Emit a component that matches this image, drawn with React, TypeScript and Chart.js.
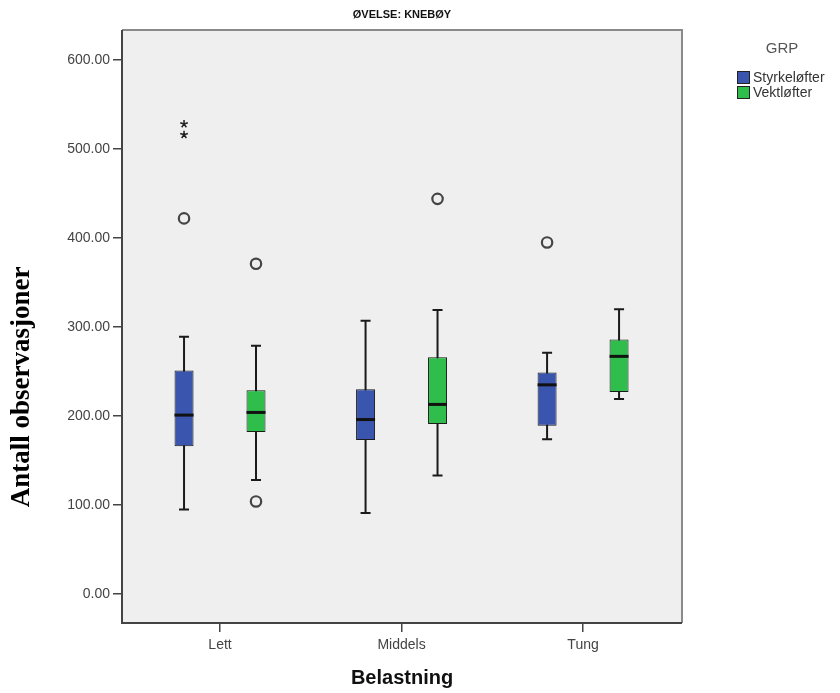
import React, { useEffect, useRef } from 'react';
import { Chart, registerables } from 'chart.js';

Chart.register(...registerables);

const categories = ['Lett', 'Middels', 'Tung'];
const groupNames = ['Styrkeløfter', 'Vektløfter'];
const yTicks = [0, 100, 200, 300, 400, 500, 600];

// Styrkeløfter
const styrkeMin = [95, 91, 174];
const styrkeQ1 = [166, 173, 189];
const styrkeMedian = [201, 196, 235];
const styrkeQ3 = [251, 230, 249];
const styrkeMax = [289, 307, 271];
const styrkeOutliers = [[422], [], [395]];
const styrkeExtremes = [[516, 528], [], []];

// Vektløfter
const vektMin = [128, 133, 219];
const vektQ1 = [182, 191, 227];
const vektMedian = [204, 213, 267];
const vektQ3 = [229, 266, 286];
const vektMax = [279, 319, 320];
const vektOutliers = [[104, 371], [444], []];
const vektExtremes = [[], [], []];

const colors = ['#3a55ad', '#2fbd4c'];
const SANS = '"Liberation Sans", Arial, sans-serif';
const SERIF = '"Liberation Serif", "Times New Roman", serif';

const stats = [
  { min: styrkeMin, q1: styrkeQ1, med: styrkeMedian, q3: styrkeQ3, max: styrkeMax, out: styrkeOutliers, ext: styrkeExtremes },
  { min: vektMin, q1: vektQ1, med: vektMedian, q3: vektQ3, max: vektMax, out: vektOutliers, ext: vektExtremes },
];

const boxPlugin = {
  id: 'boxExtras',
  beforeDraw(chart: any) {
    const { ctx, chartArea: a } = chart;
    ctx.save();
    ctx.fillStyle = '#ffffff';
    ctx.fillRect(0, 0, chart.width, chart.height);
    ctx.fillStyle = '#efefef';
    ctx.fillRect(a.left, a.top, a.right - a.left, a.bottom - a.top);
    ctx.restore();
  },
  beforeDatasetsDraw(chart: any) {
    const { ctx } = chart;
    const yS = chart.scales.y;
    ctx.save();
    ctx.strokeStyle = '#1a1a1a';
    ctx.lineWidth = 2;
    stats.forEach((s, di) => {
      const meta = chart.getDatasetMeta(di);
      meta.data.forEach((bar: any, i: number) => {
        const x = bar.x;
        const yLo = yS.getPixelForValue(s.min[i]);
        const yHi = yS.getPixelForValue(s.max[i]);
        ctx.beginPath();
        ctx.moveTo(x, yLo);
        ctx.lineTo(x, yHi);
        ctx.moveTo(x - 5, yLo);
        ctx.lineTo(x + 5, yLo);
        ctx.moveTo(x - 5, yHi);
        ctx.lineTo(x + 5, yHi);
        ctx.stroke();
      });
    });
    ctx.restore();
  },
  afterDatasetsDraw(chart: any) {
    const { ctx, chartArea: a } = chart;
    const yS = chart.scales.y;
    ctx.save();
    stats.forEach((s, di) => {
      const meta = chart.getDatasetMeta(di);
      meta.data.forEach((bar: any, i: number) => {
        const x = bar.x;
        const w = bar.width;
        const ym = yS.getPixelForValue(s.med[i]);
        ctx.strokeStyle = '#111';
        ctx.lineWidth = 3;
        ctx.beginPath();
        ctx.moveTo(x - w / 2, ym);
        ctx.lineTo(x + w / 2, ym);
        ctx.stroke();
        ctx.strokeStyle = '#444';
        ctx.lineWidth = 2.2;
        s.out[i].forEach((v: number) => {
          const y = yS.getPixelForValue(v);
          ctx.beginPath();
          ctx.arc(x, y, 5.2, 0, Math.PI * 2);
          ctx.stroke();
        });
        ctx.strokeStyle = '#222';
        ctx.lineWidth = 1.5;
        s.ext[i].forEach((v: number) => {
          const y = yS.getPixelForValue(v);
          ctx.beginPath();
          for (let k = 0; k < 5; k++) {
            const ang = -Math.PI / 2 + (k * 2 * Math.PI) / 5;
            ctx.moveTo(x, y);
            ctx.lineTo(x + 4 * Math.cos(ang), y + 4 * Math.sin(ang));
          }
          ctx.stroke();
        });
      });
    });
    // frame
    ctx.lineWidth = 2;
    ctx.strokeStyle = '#8a8a8a';
    ctx.beginPath();
    ctx.moveTo(a.left, a.top);
    ctx.lineTo(a.right, a.top);
    ctx.lineTo(a.right, a.bottom);
    ctx.stroke();
    ctx.strokeStyle = '#444';
    ctx.beginPath();
    ctx.moveTo(a.left, a.top);
    ctx.lineTo(a.left, a.bottom);
    ctx.lineTo(a.right, a.bottom);
    ctx.stroke();
    ctx.restore();
  },
  afterDraw(chart: any) {
    const { ctx, chartArea: a } = chart;
    ctx.save();
    // y axis title
    ctx.translate(22, 387);
    ctx.rotate(-Math.PI / 2);
    ctx.fillStyle = '#000';
    ctx.font = 'bold 27px ' + SERIF;
    ctx.textAlign = 'center';
    ctx.textBaseline = 'middle';
    ctx.fillText('Antall observasjoner', 0, 0);
    ctx.restore();
    // legend
    ctx.save();
    const lx = a.right + 55;
    ctx.fillStyle = '#555';
    ctx.font = '15px ' + SANS;
    ctx.textAlign = 'center';
    ctx.textBaseline = 'middle';
    ctx.fillText('GRP', lx + 45, 49);
    ctx.font = '14px ' + SANS;
    ctx.textAlign = 'left';
    groupNames.forEach((name, k) => {
      const y = 71 + k * 15;
      ctx.fillStyle = colors[k];
      ctx.fillRect(lx, y, 13, 13);
      ctx.strokeStyle = '#222';
      ctx.lineWidth = 1;
      ctx.strokeRect(lx + 0.5, y + 0.5, 12, 12);
      ctx.fillStyle = '#333';
      ctx.fillText(name, lx + 16, y + 7);
    });
    ctx.restore();
  },
};

export default function App() {
  const ref = useRef<HTMLCanvasElement | null>(null);
  useEffect(() => {
    if (!ref.current) return;
    const datasets = stats.map((s, di) => ({
      label: groupNames[di],
      data: categories.map((_, i) => ({ x: i, y: [s.q1[i], s.q3[i]] })),
      backgroundColor: colors[di],
      borderColor: '#1a1a1a',
      borderWidth: 1,
      borderSkipped: false,
      categoryPercentage: 0.793,
      barPercentage: 0.264,
    }));
    const chart = new Chart(ref.current, {
      type: 'bar',
      data: { datasets } as any,
      plugins: [boxPlugin],
      options: {
        animation: false,
        responsive: true,
        maintainAspectRatio: false,
        events: [],
        layout: { padding: { left: 0, right: 158, top: 0, bottom: 0 } },
        plugins: {
          legend: { display: false },
          tooltip: { enabled: false },
          title: {
            display: true,
            text: 'ØVELSE: KNEBØY',
            fullSize: false,
            color: '#111',
            font: { family: SANS, size: 11, weight: 'bold' },
            padding: { top: 8, bottom: 8.8 },
          },
        },
        scales: {
          x: {
            type: 'linear',
            offset: false,
            min: -0.54,
            max: 2.545,
            afterBuildTicks: (s: any) => {
              s.ticks = categories.map((_, i) => ({ value: i }));
            },
            afterFit: (s: any) => {
              s.height = 70;
            },
            ticks: {
              callback: (v: any) => categories[Number(v)] ?? '',
              color: '#444',
              font: { family: SANS, size: 14 },
              padding: 5,
              maxRotation: 0,
              autoSkip: false,
            },
            grid: { offset: false, drawOnChartArea: false, drawTicks: true, tickLength: 9, color: '#444', lineWidth: 1.5 },
            border: { display: false },
            title: {
              display: true,
              text: 'Belastning',
              color: '#111',
              font: { family: SANS, size: 20, weight: 'bold' },
              padding: { top: 4, bottom: 3 },
            },
          },
          y: {
            type: 'linear',
            min: -32.6,
            max: 633.7,
            afterBuildTicks: (s: any) => {
              s.ticks = yTicks.map((v) => ({ value: v }));
            },
            afterFit: (s: any) => {
              s.width = 122;
            },
            ticks: {
              callback: (v: any) => Number(v).toFixed(2),
              color: '#444',
              font: { family: SANS, size: 14 },
              padding: 3,
            },
            grid: { drawOnChartArea: false, drawTicks: true, tickLength: 9, color: '#444', lineWidth: 1.5 },
            border: { display: false },
          },
        },
      } as any,
    });
    return () => chart.destroy();
  }, []);
  return (
    <div style={{ position: 'fixed', left: 0, top: 0, width: 840, height: 693, background: '#fff' }}>
      <canvas ref={ref} />
    </div>
  );
}
